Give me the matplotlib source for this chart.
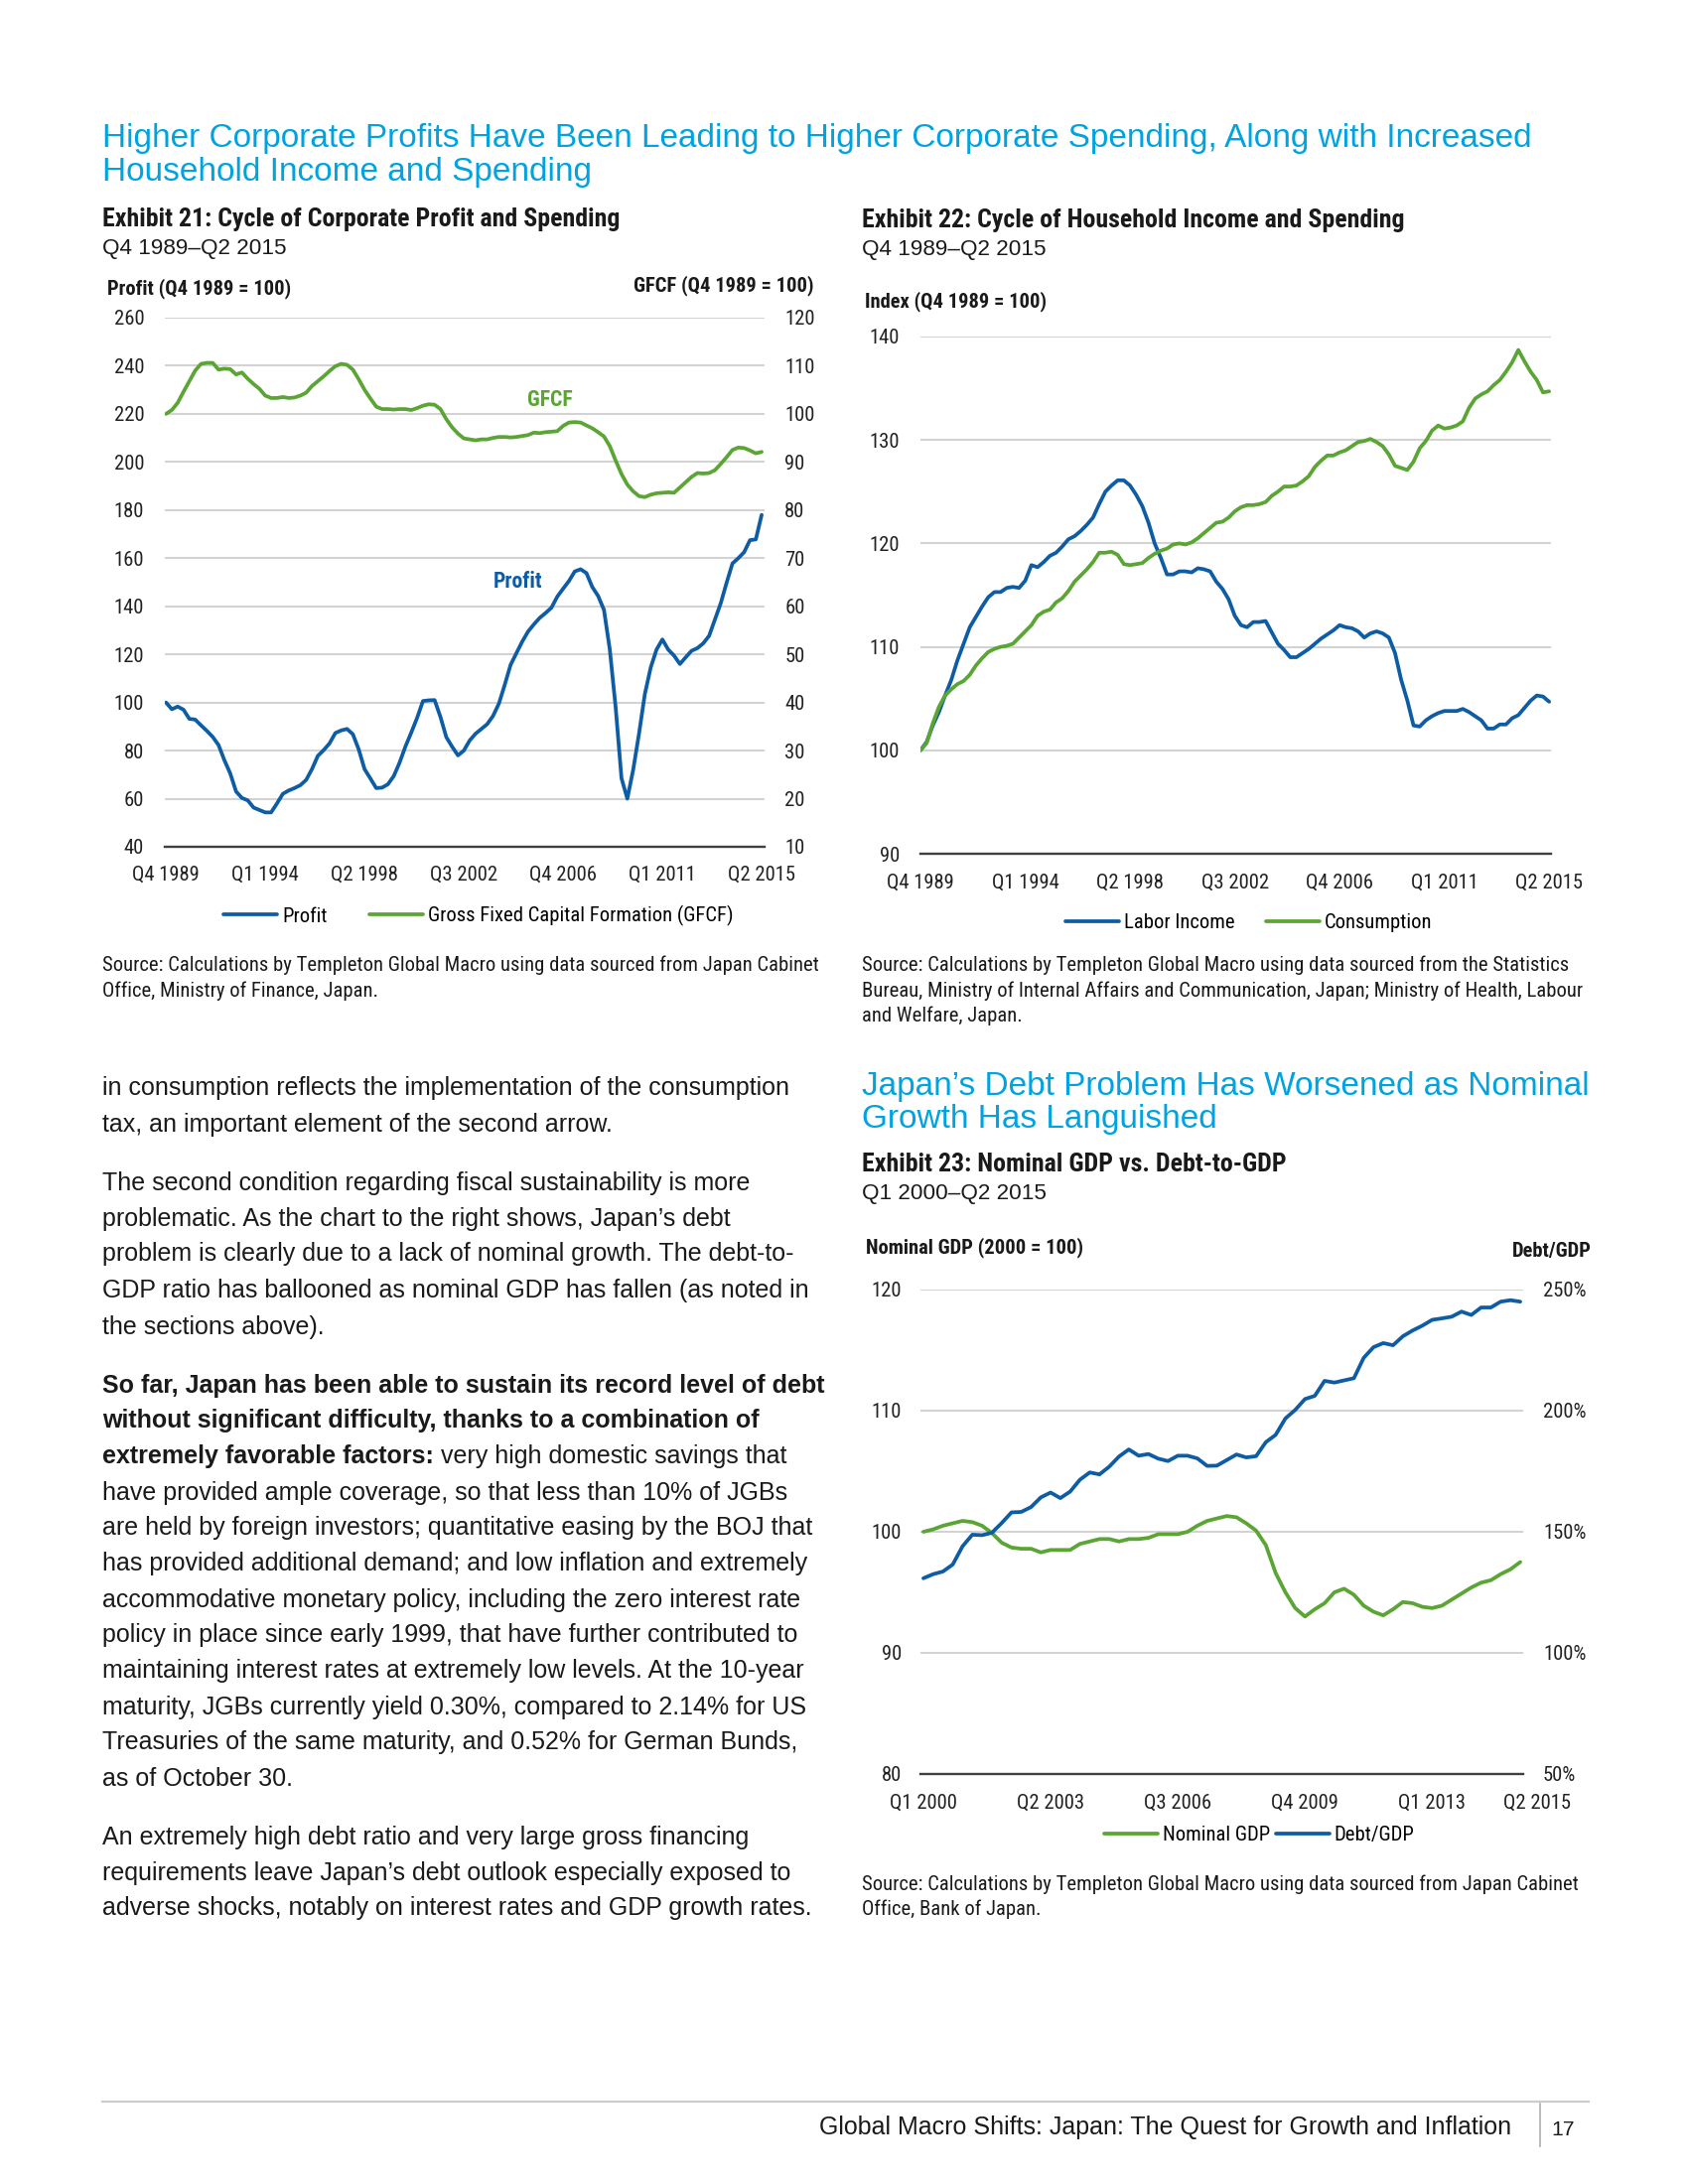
import numpy as np
import matplotlib
matplotlib.use('Agg')
import matplotlib.pyplot as plt
from matplotlib.transforms import ScaledTranslation

# --- page size / fonts ---
W, H = 1700, 2200
NARROW = ['Roboto Condensed', 'DejaVu Sans']
REG = ['Liberation Sans', 'DejaVu Sans']
plt.rcParams['font.family'] = REG

BLUE = '#0e5ca4'
GREEN = '#5ba534'
CYAN = '#00a3e0'
GRID = '#d3d3d3'
AXIS = '#404040'
TXT = '#1a1a1a'

# ---------------------------------------------------------------------------
# --- data ---
# ---------------------------------------------------------------------------

# Exhibit 21: quarterly, Q4 1989 .. Q2 2015
ex21_ticks = ['Q4 1989', 'Q1 1994', 'Q2 1998', 'Q3 2002', 'Q4 2006', 'Q1 2011', 'Q2 2015']
profit = [100.0, 97.2, 98.3, 97.0, 93.2, 92.9, 90.5, 88.2, 85.7, 82.3,
          76.0, 70.5, 63.0, 60.3, 59.3, 56.3, 55.3, 54.3, 54.3, 58.0,
          62.0, 63.4, 64.4, 65.6, 67.8, 72.3, 77.8, 80.2, 83.0, 87.3,
          88.4, 89.0, 86.8, 80.5, 72.3, 68.4, 64.4, 64.6, 66.0, 69.4,
          75.0, 81.7, 87.5, 93.6, 100.6, 100.9, 101.0, 94.0, 85.6, 81.6,
          78.0, 80.0, 84.2, 87.0, 89.0, 91.0, 94.4, 99.5, 107.3, 115.6,
          120.5, 125.3, 129.5, 132.5, 135.2, 137.2, 139.4, 144.0, 147.3, 150.5,
          154.5, 155.4, 153.8, 148.0, 144.3, 138.5, 122.0, 98.0, 68.5, 60.0,
          72.0, 87.0, 103.5, 114.5, 122.0, 126.2, 122.0, 119.5, 116.0, 118.8,
          121.5, 122.6, 124.6, 127.7, 134.5, 141.3, 149.8, 157.8, 160.0, 162.5,
          167.5, 167.8, 178.0]
gfcf = [100.0, 100.8, 102.3, 104.6, 106.8, 109.0, 110.4, 110.6, 110.6, 109.2,
        109.4, 109.3, 108.2, 108.6, 107.3, 106.2, 105.2, 103.8, 103.3, 103.3,
        103.5, 103.3, 103.4, 103.8, 104.4, 105.8, 106.8, 107.8, 108.9, 109.9,
        110.4, 110.2, 109.2, 107.2, 105.0, 103.2, 101.5, 101.0, 101.0, 100.9,
        101.0, 101.0, 100.8, 101.2, 101.7, 102.0, 101.9, 101.0, 98.9, 97.2,
        95.9, 94.9, 94.7, 94.5, 94.7, 94.7, 95.0, 95.2, 95.2, 95.1,
        95.2, 95.4, 95.6, 96.1, 96.0, 96.2, 96.3, 96.4, 97.5, 98.2,
        98.3, 98.2, 97.6, 97.0, 96.2, 95.3, 93.3, 90.3, 87.5, 85.3,
        83.9, 82.9, 82.7, 83.2, 83.5, 83.6, 83.7, 83.6, 84.7, 85.8,
        86.9, 87.7, 87.6, 87.7, 88.3, 89.6, 91.0, 92.5, 93.0, 92.9,
        92.4, 91.8, 92.1]

# Exhibit 22: quarterly, Q4 1989 .. Q2 2015
labor_income = [100.0, 100.8, 102.4, 103.7, 105.3, 106.8, 108.7, 110.3, 111.9, 112.9,
                113.9, 114.8, 115.3, 115.3, 115.7, 115.8, 115.7, 116.4, 117.9, 117.7,
                118.2, 118.8, 119.1, 119.7, 120.4, 120.7, 121.2, 121.8, 122.5, 123.8,
                125.0, 125.6, 126.1, 126.1, 125.6, 124.7, 123.6, 122.0, 120.0, 118.6,
                117.0, 117.0, 117.3, 117.3, 117.2, 117.6, 117.5, 117.3, 116.3, 115.6,
                114.6, 113.0, 112.1, 111.9, 112.4, 112.4, 112.5, 111.4, 110.3, 109.7,
                109.0, 109.0, 109.4, 109.8, 110.3, 110.8, 111.2, 111.6, 112.1, 111.9,
                111.8, 111.5, 110.9, 111.3, 111.5, 111.3, 110.9, 109.4, 106.8, 104.8,
                102.4, 102.3, 102.9, 103.3, 103.6, 103.8, 103.8, 103.8, 104.0, 103.7,
                103.3, 102.9, 102.1, 102.1, 102.5, 102.5, 103.1, 103.4, 104.1, 104.8,
                105.3, 105.2, 104.7]
consumption = [100.0, 100.7, 102.6, 104.2, 105.3, 105.9, 106.4, 106.7, 107.3, 108.2,
               108.9, 109.5, 109.8, 110.0, 110.1, 110.3, 110.9, 111.5, 112.1, 113.0,
               113.4, 113.6, 114.3, 114.7, 115.4, 116.3, 116.9, 117.5, 118.2, 119.1,
               119.1, 119.2, 118.9, 118.0, 117.9, 118.0, 118.1, 118.6, 119.0, 119.3,
               119.5, 119.9, 120.0, 119.9, 120.1, 120.5, 121.0, 121.5, 122.0, 122.1,
               122.5, 123.1, 123.5, 123.7, 123.7, 123.8, 124.0, 124.6, 125.0, 125.5,
               125.5, 125.6, 126.0, 126.5, 127.4, 128.0, 128.5, 128.5, 128.8, 129.0,
               129.4, 129.8, 129.9, 130.1, 129.8, 129.4, 128.6, 127.5, 127.3, 127.1,
               127.9, 129.2, 129.9, 130.9, 131.4, 131.1, 131.2, 131.4, 131.8, 133.1,
               134.0, 134.4, 134.7, 135.3, 135.8, 136.6, 137.5, 138.7, 137.6, 136.6,
               135.8, 134.6, 134.7]

# Exhibit 23: quarterly, Q1 2000 .. Q2 2015
ex23_ticks = ['Q1 2000', 'Q2 2003', 'Q3 2006', 'Q4 2009', 'Q1 2013', 'Q2 2015']
ex23_tick_pos = [0, 13, 26, 39, 52, 61]
nominal_gdp = [100.0, 100.2, 100.5, 100.7, 100.9, 100.8, 100.5, 99.9, 99.1, 98.7,
               98.6, 98.6, 98.3, 98.5, 98.5, 98.5, 99.0, 99.2, 99.4, 99.4,
               99.2, 99.4, 99.4, 99.5, 99.8, 99.8, 99.8, 100.0, 100.5, 100.9,
               101.1, 101.3, 101.2, 100.7, 100.1, 98.9, 96.6, 95.0, 93.7, 93.0,
               93.6, 94.1, 95.0, 95.3, 94.8, 93.9, 93.4, 93.1, 93.6, 94.2,
               94.1, 93.8, 93.7, 93.9, 94.4, 94.9, 95.4, 95.8, 96.0, 96.5,
               96.9, 97.5]
debt_gdp = [130.8, 132.5, 133.6, 136.5, 144.0, 148.8, 148.6, 149.6, 153.6, 158.0,
            158.2, 160.2, 164.2, 166.2, 163.9, 166.6, 171.5, 174.5, 173.7, 176.9,
            181.1, 184.0, 181.4, 182.1, 180.2, 179.2, 181.4, 181.4, 180.3, 177.2,
            177.3, 179.6, 181.9, 180.7, 181.2, 187.0, 190.0, 196.8, 200.3, 204.8,
            206.1, 212.3, 211.6, 212.5, 213.4, 221.8, 226.2, 227.9, 227.0, 230.7,
            233.1, 235.1, 237.5, 238.1, 238.8, 240.9, 239.5, 242.6, 242.6, 245.0,
            245.6, 245.0]

body_lines = [
    ("in consumption reflects the implementation of the consumption", None),
    ("tax, an important element of the second arrow.", None),
    ("The second condition regarding fiscal sustainability is more", None),
    ("problematic. As the chart to the right shows, Japan\u2019s debt", None),
    ("problem is clearly due to a lack of nominal growth. The debt-to-", None),
    ("GDP ratio has ballooned as nominal GDP has fallen (as noted in", None),
    ("the sections above).", None),
    ("So far, Japan has been able to sustain its record level of debt", 'bold'),
    ("without significant difficulty, thanks to a combination of", 'bold'),
    ("extremely favorable factors:", 'mixed'),
    ("have provided ample coverage, so that less than 10% of JGBs", None),
    ("are held by foreign investors; quantitative easing by the BOJ that", None),
    ("has provided additional demand; and low inflation and extremely", None),
    ("accommodative monetary policy, including the zero interest rate", None),
    ("policy in place since early 1999, that have further contributed to", None),
    ("maintaining interest rates at extremely low levels. At the 10-year", None),
    ("maturity, JGBs currently yield 0.30%, compared to 2.14% for US", None),
    ("Treasuries of the same maturity, and 0.52% for German Bunds,", None),
    ("as of October 30.", None),
    ("An extremely high debt ratio and very large gross financing", None),
    ("requirements leave Japan\u2019s debt outlook especially exposed to", None),
    ("adverse shocks, notably on interest rates and GDP growth rates.", None),
]
mixed_tail = "very high domestic savings that"
body_y = [1103, 1140, 1199, 1235, 1270, 1307, 1344, 1403, 1438, 1474, 1511,
          1546, 1582, 1619, 1654, 1690, 1727, 1762, 1799, 1858, 1894, 1929]


# ---------------------------------------------------------------------------
# --- helpers ---
# ---------------------------------------------------------------------------

def fx(x):
    return x / W


def fy(y):
    return 1 - y / H


def add_axes(fig, left, top, right, bottom):
    return fig.add_axes([fx(left), fy(bottom), (right - left) / W, (bottom - top) / H])


def ftext(fig, x, y, s, **kw):
    return fig.text(fx(x), fy(y), s, **kw)


fig = plt.figure(figsize=(17, 22), dpi=100)
fig.patch.set_facecolor('white')
renderer = fig.canvas.get_renderer()


def fit_size(s, width_px, **kw):
    # font size (pt) that makes s about width_px wide
    t = fig.text(0, 0, s, fontsize=20, **kw)
    w = t.get_window_extent(renderer).width
    t.remove()
    return 20 * width_px / w


# sizes matched to widths measured on the page
FS_HEAD = fit_size("Higher Corporate Profits Have Been Leading to Higher Corporate Spending, Along with Increased",
                   1438, family=REG)
FS_BODY = fit_size("in consumption reflects the implementation of the consumption", 692, family=REG)
FS_FOOT = fit_size("Global Macro Shifts: Japan: The Quest for Growth and Inflation", 697, family=REG)
FS_DATE = fit_size("Q4 1989\u2013Q2 2015", 185, family=REG)
FS_EXH = fit_size("Exhibit 21: Cycle of Corporate Profit and Spending", 521, family=NARROW, weight='bold')
FS_UNIT = fit_size("Profit (Q4 1989 = 100)", 185, family=NARROW, weight='bold')
FS_SMALL = fit_size("Source: Calculations by Templeton Global Macro using data sourced from Japan Cabinet",
                    721, family=NARROW)
PX_SMALL = FS_SMALL * 100 / 72


def style_axes(ax, yticks, ylim, pad_y=15, pad_x=14):
    ax.set_ylim(*ylim)
    ax.set_yticks(yticks)
    ax.yaxis.grid(True, color=GRID, lw=1.5)
    ax.set_axisbelow(True)
    for s in ['top', 'right', 'left']:
        ax.spines[s].set_visible(False)
    ax.spines['bottom'].set_color(AXIS)
    ax.spines['bottom'].set_linewidth(1.7)
    ax.tick_params(axis='both', length=0, labelsize=FS_SMALL, labelcolor='#222222',
                   labelfontfamily=NARROW)
    ax.tick_params(axis='y', pad=pad_y)
    ax.tick_params(axis='x', pad=pad_x)


def style_twin(ax2, yticks, ylim, labels=None, pad_y=15):
    ax2.set_ylim(*ylim)
    ax2.set_yticks(yticks)
    if labels is not None:
        ax2.set_yticklabels(labels)
    for s in ax2.spines.values():
        s.set_visible(False)
    ax2.tick_params(axis='y', length=0, labelsize=FS_SMALL, labelcolor='#222222',
                    labelfontfamily=NARROW, pad=pad_y)


def legend(ax, handles, labels, anchor, colsp_px):
    ax.legend(handles, labels, loc='center', bbox_to_anchor=anchor, ncol=2, frameon=False,
              handlelength=54 / PX_SMALL, handletextpad=5 / PX_SMALL,
              columnspacing=colsp_px / PX_SMALL,
              prop={'family': NARROW, 'size': FS_SMALL})


# ---------------------------------------------------------------------------
# --- page ---
# ---------------------------------------------------------------------------

ftext(fig, 103, 148, "Higher Corporate Profits Have Been Leading to Higher Corporate Spending, Along with Increased",
      color=CYAN, fontsize=FS_HEAD, family=REG)
ftext(fig, 103, 182, "Household Income and Spending", color=CYAN, fontsize=FS_HEAD, family=REG)

# --- Exhibit 21 ---
ftext(fig, 103, 228, "Exhibit 21: Cycle of Corporate Profit and Spending",
      fontsize=FS_EXH, weight='bold', family=NARROW, color=TXT)
ftext(fig, 103, 256, "Q4 1989\u2013Q2 2015", fontsize=FS_DATE, family=REG, color=TXT)
ftext(fig, 108, 296, "Profit (Q4 1989 = 100)", fontsize=FS_UNIT, weight='bold', family=NARROW, color=TXT)
ftext(fig, 820, 293, "GFCF (Q4 1989 = 100)", fontsize=FS_UNIT, weight='bold', family=NARROW,
      color=TXT, ha='right')

ax21 = add_axes(fig, 166, 320, 770, 853)
x21 = np.arange(len(profit))
style_axes(ax21, np.arange(40, 261, 20), (40, 260), pad_y=15, pad_x=13.5)
ax21.set_xlim(-0.2, 102.5)
ax21.set_xticks(np.arange(0, 103, 17))
ax21.set_xticklabels(ex21_ticks)
l_profit, = ax21.plot(x21, profit, color=BLUE, lw=2.7, solid_capstyle='round')
ax21r = ax21.twinx()
style_twin(ax21r, np.arange(10, 121, 10), (10, 120), pad_y=14.5)
l_gfcf, = ax21r.plot(x21, gfcf, color=GREEN, lw=2.7, solid_capstyle='round')
legend(ax21, [l_profit, l_gfcf], ['Profit', 'Gross Fixed Capital Formation (GFCF)'],
       (0.523, -0.131), 42)
ftext(fig, 554, 403, "GFCF", color=GREEN, fontsize=FS_UNIT * 1.05, weight='bold', family=NARROW,
      ha='center', va='center')
ftext(fig, 521, 586, "Profit", color=BLUE, fontsize=FS_UNIT * 1.05, weight='bold', family=NARROW,
      ha='center', va='center')
ftext(fig, 103, 978, "Source: Calculations by Templeton Global Macro using data sourced from Japan Cabinet",
      fontsize=FS_SMALL, family=NARROW, color=TXT)
ftext(fig, 103, 1004, "Office, Ministry of Finance, Japan.", fontsize=FS_SMALL, family=NARROW, color=TXT)

# --- Exhibit 22 ---
ftext(fig, 868, 229, "Exhibit 22: Cycle of Household Income and Spending",
      fontsize=FS_EXH, weight='bold', family=NARROW, color=TXT)
ftext(fig, 868, 257, "Q4 1989\u2013Q2 2015", fontsize=FS_DATE, family=REG, color=TXT)
ftext(fig, 871, 309, "Index (Q4 1989 = 100)", fontsize=FS_UNIT, weight='bold', family=NARROW, color=TXT)

ax22 = add_axes(fig, 927, 339, 1562, 860)
x22 = np.arange(len(labor_income))
style_axes(ax22, np.arange(90, 141, 10), (90, 140), pad_y=15, pad_x=14.5)
ax22.set_xlim(0, 102.3)
ax22.set_xticks(np.arange(0, 103, 17))
ax22.set_xticklabels(ex21_ticks)
l_lab, = ax22.plot(x22, labor_income, color=BLUE, lw=2.7, solid_capstyle='round')
l_con, = ax22.plot(x22, consumption, color=GREEN, lw=2.7, solid_capstyle='round')
legend(ax22, [l_lab, l_con], ['Labor Income', 'Consumption'], (0.521, -0.134), 31)
ftext(fig, 868, 978, "Source: Calculations by Templeton Global Macro using data sourced from the Statistics",
      fontsize=FS_SMALL, family=NARROW, color=TXT)
ftext(fig, 868, 1004, "Bureau, Ministry of Internal Affairs and Communication, Japan; Ministry of Health, Labour",
      fontsize=FS_SMALL, family=NARROW, color=TXT)
ftext(fig, 868, 1029, "and Welfare, Japan.", fontsize=FS_SMALL, family=NARROW, color=TXT)

# --- Exhibit 23 ---
ftext(fig, 868, 1103, "Japan\u2019s Debt Problem Has Worsened as Nominal", color=CYAN, fontsize=FS_HEAD, family=REG)
ftext(fig, 868, 1136, "Growth Has Languished", color=CYAN, fontsize=FS_HEAD, family=REG)
ftext(fig, 868, 1180, "Exhibit 23: Nominal GDP vs. Debt-to-GDP",
      fontsize=FS_EXH, weight='bold', family=NARROW, color=TXT)
ftext(fig, 868, 1208, "Q1 2000\u2013Q2 2015", fontsize=FS_DATE, family=REG, color=TXT)
ftext(fig, 872, 1262, "Nominal GDP (2000 = 100)", fontsize=FS_UNIT, weight='bold', family=NARROW, color=TXT)
ftext(fig, 1603, 1266, "Debt/GDP", fontsize=FS_UNIT, weight='bold', family=NARROW, color=TXT, ha='right')

ax23 = add_axes(fig, 927, 1299, 1534, 1787)
x23 = np.arange(len(nominal_gdp))
style_axes(ax23, np.arange(80, 121, 10), (80, 120), pad_y=13.7, pad_x=14.5)
ax23.set_xlim(-0.3, 61.3)
ax23.set_xticks(ex23_tick_pos)
ax23.set_xticklabels(ex23_ticks)
last = ax23.get_xticklabels()[-1]
last.set_transform(last.get_transform() + ScaledTranslation(0.17, 0, fig.dpi_scale_trans))
l_gdp, = ax23.plot(x23, nominal_gdp, color=GREEN, lw=2.7, solid_capstyle='round')
ax23r = ax23.twinx()
style_twin(ax23r, np.arange(50, 251, 50), (50, 250),
           labels=[f"{v}%" for v in range(50, 251, 50)], pad_y=14.4)
l_debt, = ax23r.plot(x23, debt_gdp, color=BLUE, lw=2.7, solid_capstyle='round')
legend(ax23, [l_gdp, l_debt], ['Nominal GDP', 'Debt/GDP'], (0.562, -0.127), 6)
ftext(fig, 868, 1904, "Source: Calculations by Templeton Global Macro using data sourced from Japan Cabinet",
      fontsize=FS_SMALL, family=NARROW, color=TXT)
ftext(fig, 868, 1929, "Office, Bank of Japan.", fontsize=FS_SMALL, family=NARROW, color=TXT)

# --- body text ---
for (line, kind), y in zip(body_lines, body_y):
    if kind == 'bold':
        ftext(fig, 103, y, line, fontsize=FS_BODY, weight='bold', family=REG, color=TXT)
    elif kind == 'mixed':
        t = ftext(fig, 103, y, line, fontsize=FS_BODY, weight='bold', family=REG, color=TXT)
        bb = t.get_window_extent(renderer)
        ftext(fig, bb.x1 + FS_BODY * 0.38, y, mixed_tail, fontsize=FS_BODY, family=REG, color=TXT)
    else:
        ftext(fig, 103, y, line, fontsize=FS_BODY, family=REG, color=TXT)

# --- footer ---
fig.add_artist(plt.Line2D([fx(103), fx(1600)], [fy(2117), fy(2117)], color='#cccccc', lw=1.6))
fig.add_artist(plt.Line2D([fx(1551), fx(1551)], [fy(2119), fy(2162)], color='#b0b0b0', lw=1.2))
ftext(fig, 1522, 2150, "Global Macro Shifts: Japan: The Quest for Growth and Inflation",
      fontsize=FS_FOOT, family=REG, color=TXT, ha='right')
ftext(fig, 1562, 2151, "17", fontsize=FS_FOOT * 0.85, family=REG, color=TXT)

fig.savefig('out.png', dpi=100, facecolor='white')
